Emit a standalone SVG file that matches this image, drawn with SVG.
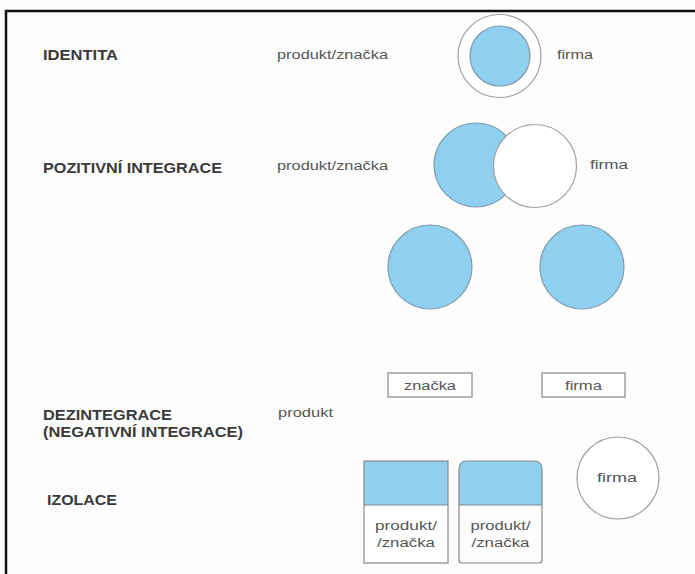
<svg xmlns="http://www.w3.org/2000/svg" width="695" height="574" viewBox="0 0 695 574">
<style>
.lbl{font-family:"Liberation Sans",Arial,sans-serif;font-weight:bold;font-size:14px;fill:#3a3a3a}
.t{font-family:"Liberation Sans",Arial,sans-serif;font-size:12.5px;fill:#555}
.blue{fill:#8fd0f0;stroke:#7f9aa8;stroke-width:1.2}
.wc{fill:#fff;stroke:#a0a0a0;stroke-width:1.2}
.box{fill:#fff;stroke:#888;stroke-width:1.2}
.edge{fill:none;stroke:#888;stroke-width:1.2}
</style>
<rect width="695" height="574" fill="#fdfdfd"/>
<rect x="6" y="11" width="720" height="620" fill="none" stroke="#111" stroke-width="2.5"/>

<g id="identita">
<text class="lbl" x="43" y="60" textLength="75" lengthAdjust="spacingAndGlyphs">IDENTITA</text>
<text class="t" x="277" y="59" textLength="111" lengthAdjust="spacingAndGlyphs">produkt/značka</text>
<circle class="wc" cx="499.5" cy="56" r="41.5"/>
<circle class="blue" cx="500" cy="56" r="30"/>
<text class="t" x="557" y="59" textLength="36" lengthAdjust="spacingAndGlyphs">firma</text>
</g>

<g id="pozitivni">
<text class="lbl" x="43" y="173" textLength="179" lengthAdjust="spacingAndGlyphs">POZITIVNÍ INTEGRACE</text>
<text class="t" x="277" y="170" textLength="111" lengthAdjust="spacingAndGlyphs">produkt/značka</text>
<circle class="blue" cx="476" cy="165" r="42"/>
<circle class="wc" cx="535" cy="166" r="41.5"/>
<text class="t" x="590" y="169" textLength="38" lengthAdjust="spacingAndGlyphs">firma</text>
</g>

<g id="dezintegrace">
<circle class="blue" cx="430" cy="267" r="42"/>
<circle class="blue" cx="582" cy="267" r="42"/>
<rect class="box" x="388" y="373" width="84" height="24"/>
<text class="t" x="430" y="390" text-anchor="middle" textLength="52" lengthAdjust="spacingAndGlyphs">značka</text>
<rect class="box" x="542" y="373" width="83" height="24"/>
<text class="t" x="583.5" y="390" text-anchor="middle" textLength="37" lengthAdjust="spacingAndGlyphs">firma</text>
<text class="lbl" x="43" y="420" textLength="129" lengthAdjust="spacingAndGlyphs">DEZINTEGRACE</text>
<text class="lbl" x="43" y="437" textLength="200" lengthAdjust="spacingAndGlyphs">(NEGATIVNÍ INTEGRACE)</text>
<text class="t" x="278" y="417" textLength="55" lengthAdjust="spacingAndGlyphs">produkt</text>
</g>

<g id="izolace">
<text class="lbl" x="47" y="505" textLength="70" lengthAdjust="spacingAndGlyphs">IZOLACE</text>
<rect x="364" y="461" width="84" height="102" fill="#fff"/>
<rect x="364" y="461" width="84" height="44" fill="#8fd0f0"/>
<rect class="edge" x="364" y="461" width="84" height="102"/>
<line x1="364" y1="505" x2="448" y2="505" stroke="#888" stroke-width="1.2"/>
<text class="t" x="406" y="530" text-anchor="middle" textLength="62" lengthAdjust="spacingAndGlyphs">produkt/</text>
<text class="t" x="406" y="547" text-anchor="middle" textLength="58" lengthAdjust="spacingAndGlyphs">/značka</text>
<path d="M459 505 V469 Q459 461 467 461 H534 Q542 461 542 469 V505 Z" fill="#8fd0f0"/>
<path class="edge" d="M459 469 Q459 461 467 461 H534 Q542 461 542 469 V560 Q542 563 539 563 H462 Q459 563 459 560 Z"/>
<line x1="459" y1="505" x2="542" y2="505" stroke="#888" stroke-width="1.2"/>
<text class="t" x="500.5" y="530" text-anchor="middle" textLength="60" lengthAdjust="spacingAndGlyphs">produkt/</text>
<text class="t" x="500.5" y="547" text-anchor="middle" textLength="58" lengthAdjust="spacingAndGlyphs">/značka</text>
<circle class="wc" cx="618" cy="478" r="41"/>
<text class="t" x="617" y="482" text-anchor="middle" textLength="40" lengthAdjust="spacingAndGlyphs">firma</text>
</g>
</svg>
